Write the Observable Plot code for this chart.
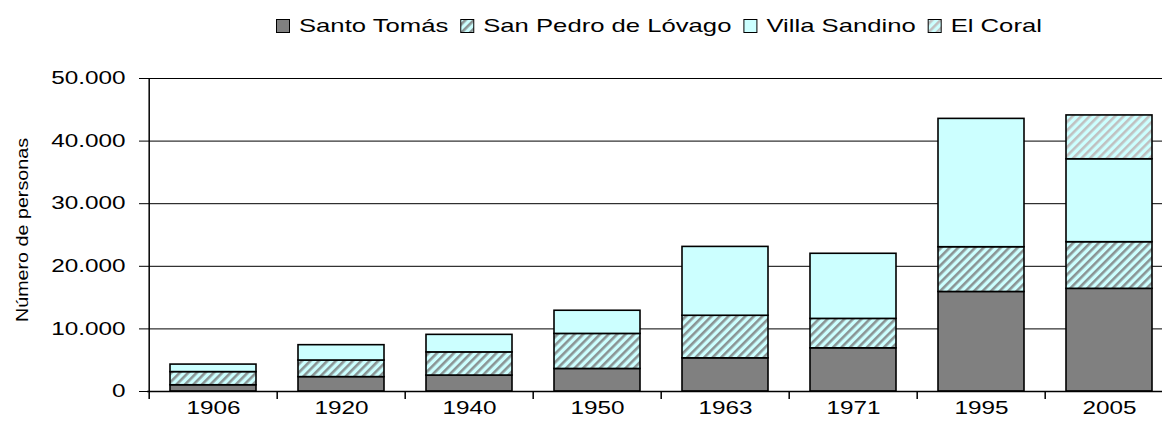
<!DOCTYPE html>
<html>
<head>
<meta charset="utf-8">
<script src="https://cdn.jsdelivr.net/npm/d3@7"></script>
<script src="https://cdn.jsdelivr.net/npm/@observablehq/plot@0.6"></script>
<style>
  html, body { margin: 0; padding: 0; background: #fff; overflow: hidden; }
  svg { display: block; }
</style>
</head>
<body>
<div id="chart"></div>
<script>
// ---- data ----
const years = ["1906", "1920", "1940", "1950", "1963", "1971", "1995", "2005"];
const seriesNames = ["Santo Tomás", "San Pedro de Lóvago", "Villa Sandino", "El Coral"];
const santoTomas   = [1000, 2300, 2550, 3600, 5300, 6900, 15900, 16400];
const sanPedro     = [2100, 2650, 3700, 5600, 6800, 4700, 7150, 7450];
const villaSandino = [1200, 2450, 2800, 3700, 11000, 10400, 20500, 13250];
const elCoral      = [0, 0, 0, 0, 0, 0, 0, 7000];
const yTicks = [0, 10000, 20000, 30000, 40000, 50000];
const yLabel = "Número de personas";

// ---- styles ----
const fills = ["#808080", "url(#patSP)", "#ccffff", "url(#patEC)"];
const W = 1162, legendH = 50, H = 381;
const mTop = 28, mBottom = 40, mLeft = 147;
const xRange = [146.4, 1175.3];
const step = (xRange[1] - xRange[0]) / years.length;
const font = "'Liberation Sans', Arial, sans-serif";
const stretch = 1.35;

const seriesValues = [santoTomas, sanPedro, villaSandino, elCoral];
const table = [];
seriesNames.forEach((s, si) => {
  years.forEach((y, yi) => {
    const v = seriesValues[si][yi];
    if (v > 0) table.push({year: y, series: s, value: v});
  });
});

const root = document.getElementById("chart");

// ---- legend (own svg above chart) ----
const leg = d3.select(root).append("svg")
  .attr("width", W).attr("height", legendH);
const defs = leg.append("defs");
function stripePattern(id, fg, bg) {
  const p = defs.append("pattern").attr("id", id)
    .attr("patternUnits", "userSpaceOnUse")
    .attr("width", 6).attr("height", 6)
    .attr("patternTransform", "rotate(45)");
  p.append("rect").attr("width", 6).attr("height", 6).attr("fill", bg);
  p.append("rect").attr("width", 2.6).attr("height", 6).attr("fill", fg);
}
stripePattern("patSP", "#8a9494", "#ccffff");
stripePattern("patEC", "#c0c0c0", "#ccffff");

let lx = 276;
seriesNames.forEach((name, i) => {
  leg.append("rect").attr("x", lx + 0.5).attr("y", 19.5).attr("width", 13).attr("height", 13)
    .attr("fill", fills[i]).attr("stroke", "#000").attr("stroke-width", 1);
  const t = leg.append("text").attr("x", lx + 23).attr("y", 32)
    .attr("font-family", font).attr("font-size", 19).attr("fill", "#000").text(name);
  const w = t.node().getComputedTextLength() * stretch;
  t.attr("textLength", w).attr("lengthAdjust", "spacingAndGlyphs");
  lx = lx + 23 + w + 12;
});

// ---- chart ----
const fmt = d => d === 0 ? "0" : d3.format(",")(d).replace(/,/g, ".");
const plotH = H - mTop - mBottom;

const chart = Plot.plot({
  width: W,
  height: H,
  marginTop: mTop,
  marginBottom: mBottom,
  marginLeft: mLeft,
  marginRight: 0,
  style: {fontFamily: font, fontSize: "18px", color: "#000", background: "#fff", overflow: "hidden"},
  x: {domain: years, range: xRange, padding: 0, tickSize: 0, tickPadding: 10, label: null},
  y: {domain: [0, 50000], ticks: yTicks, tickFormat: fmt, tickSize: 8, tickPadding: 14, label: null},
  color: {domain: seriesNames, range: fills},
  marks: [
    Plot.ruleY(yTicks, {stroke: "#000", strokeWidth: 1}),
    Plot.barY(table, Plot.stackY({
      x: "year", y: "value", fill: "series", order: seriesNames,
      stroke: "#000", strokeWidth: 1.6, insetLeft: 21, insetRight: 21
    })),
    // y axis line
    Plot.ruleX([years[0]], {dx: -step / 2, stroke: "#000", strokeWidth: 1.5}),
    // x axis category boundary ticks
    Plot.ruleX(years, {dx: -step / 2, insetTop: plotH, insetBottom: -8, stroke: "#000", strokeWidth: 1.5}),
    Plot.ruleY([0], {stroke: "#000", strokeWidth: 1.5})
  ]
});
root.appendChild(chart);

// stretch axis tick labels horizontally like the reference
d3.select(chart).selectAll("g[aria-label$='tick label'] text, g[aria-label$='axis'] text").each(function() {
  const w = this.getComputedTextLength();
  this.setAttribute("textLength", w * stretch);
  this.setAttribute("lengthAdjust", "spacingAndGlyphs");
});

// y axis title
d3.select(chart).append("text")
  .attr("transform", `translate(28,180) rotate(-90)`)
  .attr("text-anchor", "middle")
  .attr("font-family", font).attr("font-size", 17).attr("fill", "#000")
  .attr("textLength", 184).attr("lengthAdjust", "spacingAndGlyphs")
  .text(yLabel);
</script>
</body>
</html>
